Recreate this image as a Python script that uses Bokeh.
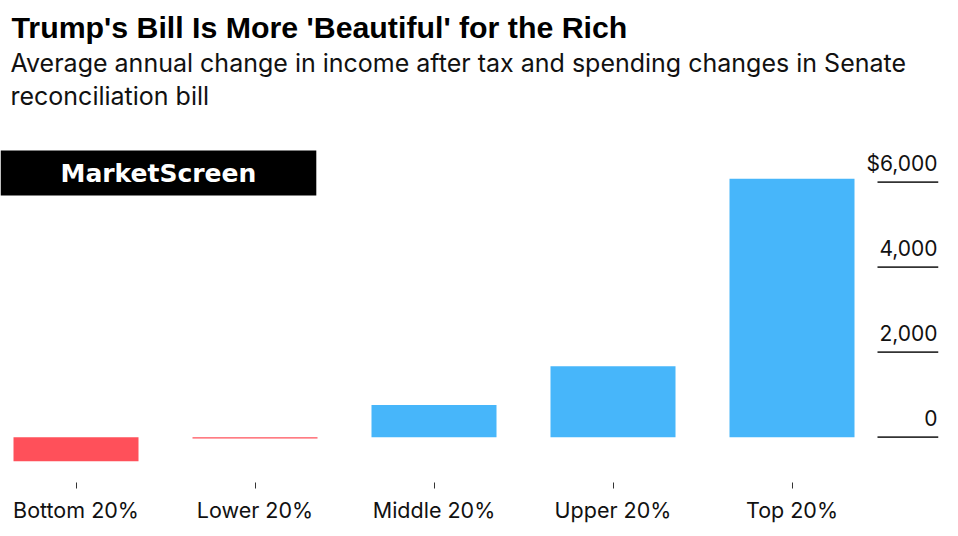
from bokeh.plotting import figure
from bokeh.models import Range1d, LinearAxis, FixedTicker, Title, Label, ColumnDataSource
from bokeh.core.properties import value
from bokeh.embed import file_html
from bokeh.resources import INLINE

# ---- data ----
categories = ["Bottom 20%", "Lower 20%", "Middle 20%", "Upper 20%", "Top 20%"]
changes = [-565, -30, 760, 1670, 6080]
y_ticks = [0, 2000, 4000, 6000]
y_tick_labels = ["0", "2,000", "4,000", "$6,000"]

title_text = "Trump's Bill Is More 'Beautiful' for the Rich"
subtitle_1 = "Average annual change in income after tax and spending changes in Senate"
subtitle_2 = "reconciliation bill"
logo_text = "MarketScreen"

BLUE = "#47B6FA"
RED = "#FF505A"
TITLE_FONT = "Liberation Sans"
FONT = "Inter"

# ---- layout (pixels) ----
W, H = 950, 530
FRAME_TOP, FRAME_BOTTOM, FRAME_RIGHT = 110, 482, 938
PX_PER_CAT = 179.0
PX_PER_UNIT_Y = 85.0 / 2000.0
ZERO_Y = 436.7
RULE_LEN = 61

x_start = -75.5 / PX_PER_CAT
x_end = x_start + FRAME_RIGHT / PX_PER_CAT
y_start = -(FRAME_BOTTOM - ZERO_Y) / PX_PER_UNIT_Y
y_end = (ZERO_Y - FRAME_TOP) / PX_PER_UNIT_Y

xs = list(range(len(categories)))
colors = [RED if v < 0 else BLUE for v in changes]
src = ColumnDataSource(dict(x=xs, top=changes, color=colors))

p = figure(width=W, height=H, title=None, toolbar_location=None,
           output_backend="svg", x_range=Range1d(x_start, x_end),
           y_range=Range1d(y_start, y_end), x_axis_location=None,
           y_axis_location=None, min_border_left=0, min_border_right=W - FRAME_RIGHT,
           min_border_top=FRAME_TOP, min_border_bottom=H - FRAME_BOTTOM)
p.outline_line_color = None
p.xgrid.visible = False
p.ygrid.visible = False
p.background_fill_color = "white"
p.border_fill_color = "white"

p.vbar(x="x", top="top", bottom=0, width=125 / PX_PER_CAT, color="color",
       source=src, line_color=None)

# x axis
xaxis = LinearAxis(ticker=FixedTicker(ticks=xs),
                   major_label_overrides={i: c for i, c in enumerate(categories)})
xaxis.axis_line_color = None
xaxis.major_tick_in = 0
xaxis.major_tick_out = 6
xaxis.major_tick_line_color = "#333333"
xaxis.minor_tick_line_color = None
xaxis.major_label_text_font = FONT
xaxis.major_label_text_font_size = "21.5px"
xaxis.major_label_text_color = "#111111"
xaxis.major_label_standoff = 8
p.add_layout(xaxis, "below")

# value rules and labels on the right
rule_x0 = x_end - RULE_LEN / PX_PER_CAT
p.segment(x0=[rule_x0] * len(y_ticks), x1=[x_end] * len(y_ticks), y0=y_ticks, y1=y_ticks,
          line_color="#333333", line_width=1.7)
p.text(x=[x_end] * len(y_ticks), y=y_ticks, text=y_tick_labels,
       text_align="right", text_baseline="alphabetic", y_offset=-19, x_offset=-1,
       text_font=value(FONT), text_font_size="21px", text_color="#111111")

# logo
logo = Label(x=x_start, y=(ZERO_Y - 172.5) / PX_PER_UNIT_Y, text=logo_text,
             text_align="left", text_baseline="middle",
             text_font="DejaVu Sans", text_font_style="bold", text_font_size="25px",
             text_color="white", background_fill_color="black",
             padding=dict(left=60, right=60, top=8, bottom=8))
p.add_layout(logo)

# titles (last added is top-most)
p.add_layout(Title(text=subtitle_2, text_font=FONT, text_font_size="25px",
                   text_font_style="normal", text_color="#111111", align="left",
                   offset=10, standoff=0), "above")
p.add_layout(Title(text=subtitle_1, text_font=FONT, text_font_size="25px",
                   text_font_style="normal", text_color="#111111", align="left",
                   offset=10, standoff=1), "above")
p.add_layout(Title(text=title_text, text_font=TITLE_FONT, text_font_size="30.3px",
                   text_font_style="bold", text_color="black", align="left",
                   offset=11, standoff=3), "above")

open("out.html", "w").write(file_html(p, INLINE))
